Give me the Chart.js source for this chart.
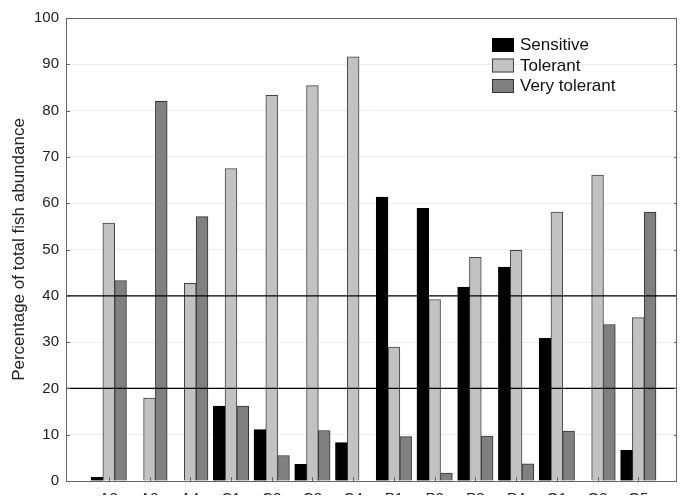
<!DOCTYPE html>
<html>
<head>
<meta charset="utf-8">
<script src="https://cdn.jsdelivr.net/npm/chart.js@4.4.0/dist/chart.umd.min.js"></script>
<style>
  html, body { margin: 0; padding: 0; background: #fff; }
  #wrap { width: 680px; height: 497px; }
</style>
</head>
<body>
<div id="wrap"><canvas id="chart" width="680" height="497"></canvas></div>
<script>
// sites along the x axis
const sites = ['A2', 'A3', 'A4', 'C1', 'C2', 'C3', 'C4', 'P1', 'P2', 'P3', 'P4', 'O1', 'O3', 'O5'];
// % of total fish abundance per tolerance group
const sensitive = [0.8, 0, 0, 16.2, 11.1, 3.6, 8.3, 61.3, 58.9, 41.9, 46.2, 30.8, 0, 6.6];
const tolerant = [55.7, 17.9, 42.7, 67.5, 83.3, 85.4, 91.6, 28.9, 39.2, 48.3, 49.8, 58.1, 66.1, 35.3];
const veryTolerant = [43.3, 82.0, 57.1, 16.2, 5.5, 10.9, 0, 9.6, 1.7, 9.7, 3.7, 10.8, 33.8, 58.1];
const yTicks = [0, 10, 20, 30, 40, 50, 60, 70, 80, 90, 100];
const refLevels = [20, 40];

const FONT = "'Liberation Sans', Arial, sans-serif";
const X_MIN = -1.05, X_MAX = 13.95;

const toPoints = arr => arr.map((v, i) => ({ x: i, y: v }));

function barSet(label, values, fill, border) {
    return {
        type: 'bar', label, data: toPoints(values),
        backgroundColor: fill, borderColor: border, borderWidth: 1,
        borderSkipped: 'start', barThickness: 11.8, order: 1
    };
}

const refSets = refLevels.map(v => ({
    type: 'line', label: 'ref' + v,
    data: [{ x: X_MIN, y: v }, { x: X_MAX, y: v }],
    borderColor: '#000', borderWidth: 1.2, pointRadius: 0, order: 0
}));

// frame, inward ticks and the legend box
const decor = {
    id: 'decor',
    afterDatasetsDraw(chart) {
        const { ctx, chartArea: a, scales } = chart;
        ctx.save();
        ctx.strokeStyle = '#666';
        ctx.lineWidth = 1;
        ctx.strokeRect(a.left + 0.5, a.top + 0.5, a.right - a.left - 1, a.bottom - a.top);
        ctx.beginPath();
        yTicks.forEach(t => {
            const y = Math.round(scales.y.getPixelForValue(t)) + 0.5;
            ctx.moveTo(a.left, y); ctx.lineTo(a.left + 4, y);
            ctx.moveTo(a.right - 3, y); ctx.lineTo(a.right, y);
        });
        sites.forEach((s, i) => {
            const x = Math.round(scales.x.getPixelForValue(i)) + 0.5;
            ctx.moveTo(x, a.bottom); ctx.lineTo(x, a.bottom - 4);
        });
        ctx.stroke();

        // legend
        const bars = chart.data.datasets.filter(d => d.type === 'bar');
        ctx.font = '17px ' + FONT;
        ctx.textBaseline = 'middle';
        bars.forEach((d, i) => {
            const y = 38 + i * 20.5;
            ctx.fillStyle = d.backgroundColor;
            ctx.fillRect(492, y, 22, 14);
            ctx.strokeStyle = d.borderColor;
            ctx.strokeRect(492.5, y + 0.5, 21, 13);
            ctx.fillStyle = '#111';
            ctx.fillText(d.label, 520, y + 7.5);
        });
        ctx.restore();
    }
};

new Chart(document.getElementById('chart'), {
    data: {
        datasets: [
            barSet('Sensitive', sensitive, '#000000', '#000000'),
            barSet('Tolerant', tolerant, '#c2c2c2', '#444444'),
            barSet('Very tolerant', veryTolerant, '#808080', '#333333'),
            ...refSets
        ]
    },
    options: {
        responsive: false,
        animation: false,
        layout: { padding: { top: 18, right: 3, left: 0, bottom: 0 } },
        plugins: { legend: { display: false }, tooltip: { enabled: false } },
        scales: {
            x: {
                type: 'linear', min: X_MIN, max: X_MAX, offset: false,
                grid: { display: false, drawTicks: false, offset: false },
                border: { display: false },
                afterBuildTicks: s => { s.ticks = sites.map((_, i) => ({ value: i })); },
                afterFit: s => { s.height = 14; },
                ticks: {
                    autoSkip: false, maxRotation: 0, padding: 9,
                    color: '#222', font: { family: FONT, size: 15 },
                    callback: v => sites[v] ?? ''
                }
            },
            y: {
                min: 0, max: 100,
                grid: { color: '#eeeeee', drawTicks: false },
                border: { display: false },
                afterBuildTicks: s => { s.ticks = yTicks.map(v => ({ value: v })); },
                afterFit: s => { s.width = 66; },
                ticks: { padding: 7, color: '#222', font: { family: FONT, size: 15 } },
                title: {
                    display: true, text: 'Percentage of total fish abundance',
                    color: '#222', font: { family: FONT, size: 17 }, padding: { top: 9, bottom: 0 }
                }
            }
        }
    },
    plugins: [decor]
});
</script>
</body>
</html>
